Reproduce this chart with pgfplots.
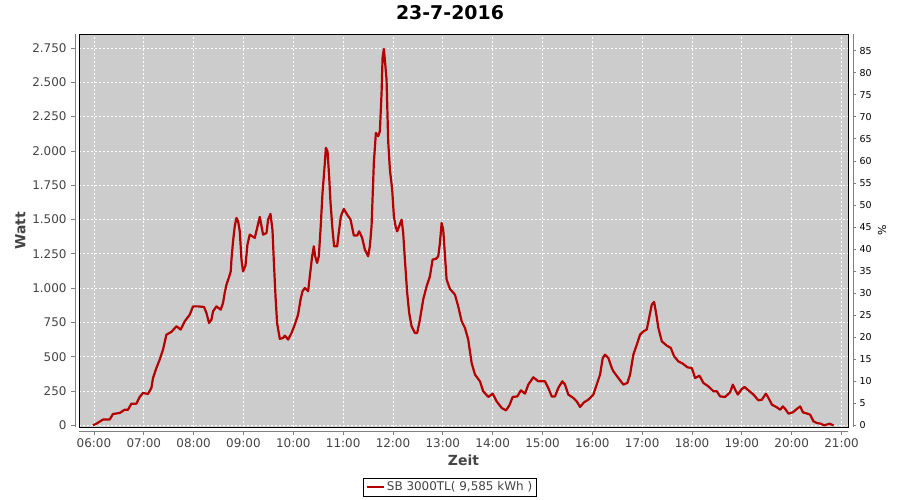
\documentclass[border=0pt]{standalone}
\usepackage{fontspec}
\setmainfont{DejaVu Sans}
\usepackage{pgfplots}
\usepackage{pgfplotstable}
\pgfplotsset{compat=1.18}
\definecolor{bggray}{RGB}{204,204,204}
\definecolor{linered}{RGB}{180,0,0}
\definecolor{axgray}{RGB}{128,128,128}
\definecolor{txtgray}{RGB}{68,68,68}

\pgfplotstableread{
t w
5.980 0
6.048 12
6.181 42
6.315 42
6.382 83
6.516 90
6.616 114
6.683 114
6.751 158
6.851 158
6.918 207
6.984 236
7.084 229
7.153 273
7.185 345
7.253 418
7.319 479
7.386 552
7.454 661
7.554 681
7.655 722
7.741 698
7.821 758
7.922 807
7.988 867
8.088 867
8.209 863
8.257 819
8.309 746
8.357 770
8.390 831
8.458 867
8.544 843
8.590 892
8.624 965
8.659 1026
8.705 1074
8.745 1122
8.759 1208
8.791 1341
8.825 1450
8.859 1512
8.892 1487
8.926 1414
8.960 1208
8.992 1122
9.040 1164
9.080 1317
9.126 1390
9.227 1366
9.327 1519
9.394 1390
9.462 1402
9.494 1499
9.542 1541
9.582 1426
9.608 1208
9.643 940
9.675 746
9.729 630
9.795 637
9.829 654
9.896 625
9.964 673
10.030 734
10.096 807
10.145 916
10.185 977
10.231 1001
10.297 977
10.331 1086
10.378 1232
10.412 1305
10.438 1232
10.478 1184
10.512 1232
10.546 1426
10.586 1694
10.633 1913
10.653 2022
10.687 1997
10.719 1815
10.747 1621
10.787 1426
10.819 1305
10.880 1305
10.920 1426
10.954 1523
11.014 1577
11.080 1536
11.149 1499
11.215 1383
11.281 1383
11.321 1414
11.382 1366
11.436 1281
11.502 1232
11.536 1305
11.570 1450
11.616 1913
11.657 2131
11.703 2107
11.737 2143
11.771 2423
11.791 2678
11.817 2743
11.837 2665
11.871 2520
11.904 2070
11.938 1864
11.984 1718
12.018 1523
12.052 1450
12.084 1414
12.124 1450
12.173 1499
12.205 1402
12.239 1208
12.285 965
12.325 819
12.373 722
12.440 673
12.486 673
12.540 770
12.606 916
12.675 1013
12.741 1086
12.795 1208
12.861 1213
12.908 1232
12.942 1329
12.976 1475
13.008 1426
13.076 1062
13.143 994
13.243 953
13.309 867
13.378 758
13.444 710
13.510 625
13.578 455
13.645 370
13.745 321
13.811 248
13.912 207
14.000 231
14.080 175
14.181 127
14.267 109
14.333 144
14.402 207
14.494 211
14.568 255
14.649 231
14.715 297
14.815 350
14.916 321
15.050 321
15.116 273
15.185 211
15.251 211
15.317 273
15.398 321
15.452 297
15.518 224
15.618 200
15.687 175
15.753 134
15.833 168
15.920 187
16.020 224
16.088 297
16.155 370
16.209 491
16.255 515
16.321 491
16.390 418
16.422 394
16.522 345
16.622 297
16.703 309
16.757 370
16.823 515
16.892 588
16.958 661
17.024 685
17.092 698
17.145 794
17.193 880
17.239 899
17.279 819
17.325 710
17.394 612
17.494 581
17.574 564
17.641 503
17.727 466
17.815 450
17.908 423
17.996 418
18.062 345
18.149 362
18.229 309
18.329 284
18.430 248
18.498 248
18.564 211
18.665 207
18.765 241
18.819 297
18.866 260
18.920 224
18.986 260
19.052 280
19.133 255
19.233 224
19.333 182
19.402 187
19.482 231
19.534 200
19.602 151
19.703 131
19.769 114
19.823 138
19.870 120
19.936 85
20.024 95
20.104 120
20.171 138
20.225 95
20.317 85
20.371 78
20.438 29
20.506 17
20.586 12
20.653 0
20.759 12
20.839 0
}\datatable

\begin{document}
\begin{tikzpicture}
\path[use as bounding box] (-79bp,-73bp) rectangle (821bp,427bp);
\begin{axis}[
  name=main,
  scale only axis, width=769bp, height=393bp,
  at={(0,0)}, anchor=south west,
  xmin=5.70, xmax=21.13, ymin=-12, ymax=2852,
  axis background/.style={fill=bggray},
  axis line style={black, line width=0.9bp},
  xtick={6,7,...,21},
  xticklabels={06:00,07:00,08:00,09:00,10:00,11:00,12:00,13:00,14:00,15:00,16:00,17:00,18:00,19:00,20:00,21:00},
  ytick={0,250,...,2750},
  yticklabels={0,250,500,750,1.000,1.250,1.500,1.750,2.000,2.250,2.500,2.750},
  xtick pos=bottom, ytick pos=left,
  tick align=outside, major tick length=4bp,
  xtick style={axgray, line width=0.8bp, yshift=-4bp},
  ytick style={axgray, line width=0.8bp, xshift=-4bp},
  grid=major,
  major grid style={white, dash pattern=on 2bp off 2bp, line width=0.8bp},
  /pgf/number format/assume math mode=true,
  ticklabel style={font=\fontsize{12}{14}\selectfont, text=txtgray},
  yticklabel style={xshift=-5bp},
  xticklabel style={yshift=-4bp},
  title={23-7-2016},
  title style={at={(axis description cs:0.4824,1)}, anchor=base, yshift=9bp, font=\fontsize{19}{22}\selectfont\bfseries},
  xlabel={Zeit}, ylabel={Watt},
  every axis x label/.style={at={(axis description cs:0.5,0)}, anchor=base, yshift=-38bp, font=\fontsize{14}{16}\selectfont\bfseries, text=txtgray},
  every axis y label/.style={at={(axis description cs:0,0.5)}, xshift=-58.5bp, anchor=center, rotate=90, font=\fontsize{14}{16}\selectfont\bfseries, text=txtgray},
  legend style={at={(axis description cs:0.4824,-0.153)}, anchor=center, draw=black, fill=white, line width=0.8bp,
    font=\fontsize{12}{14}\selectfont, text=txtgray, inner xsep=2bp, inner ysep=1.5bp},
  legend image code/.code={\draw[#1] (0bp,0bp) -- (17bp,0bp);},
]
\addplot[linered, line width=2.2bp, line join=round] table[x=t, y=w] {\datatable};
\addlegendentry{SB 3000TL( 9,585 kWh )}
\end{axis}
\begin{axis}[
  scale only axis, width=769bp, height=393bp,
  at={(0,0)}, anchor=south west,
  xmin=5.70, xmax=21.13, ymin=-0.36, ymax=88.79,
  axis y line*=right, axis x line=none,
  axis line style={black, line width=0.9bp},
  ytick={0,5,...,85},
  tick align=outside, major tick length=3bp,
  ytick style={axgray, line width=0.8bp, xshift=5bp},
  /pgf/number format/assume math mode=true,
  yticklabel style={font=\fontsize{9.5}{11}\selectfont, text=black, xshift=5bp},
  ylabel={\%},
  every axis y label/.style={at={(axis description cs:1,0.5)}, xshift=34bp, anchor=center, rotate=90, font=\fontsize{11}{13}\selectfont, text=black},
]
\end{axis}
\draw[axgray, line width=0.8bp] ([xshift=-4bp]main.south west) -- ([xshift=-4bp]main.north west);
\draw[axgray, line width=0.8bp] ([yshift=-4bp]main.south west) -- ([yshift=-4bp]main.south east);
\draw[axgray, line width=0.8bp] ([xshift=5bp]main.south east) -- ([xshift=5bp]main.north east);
\end{tikzpicture}
\end{document}
